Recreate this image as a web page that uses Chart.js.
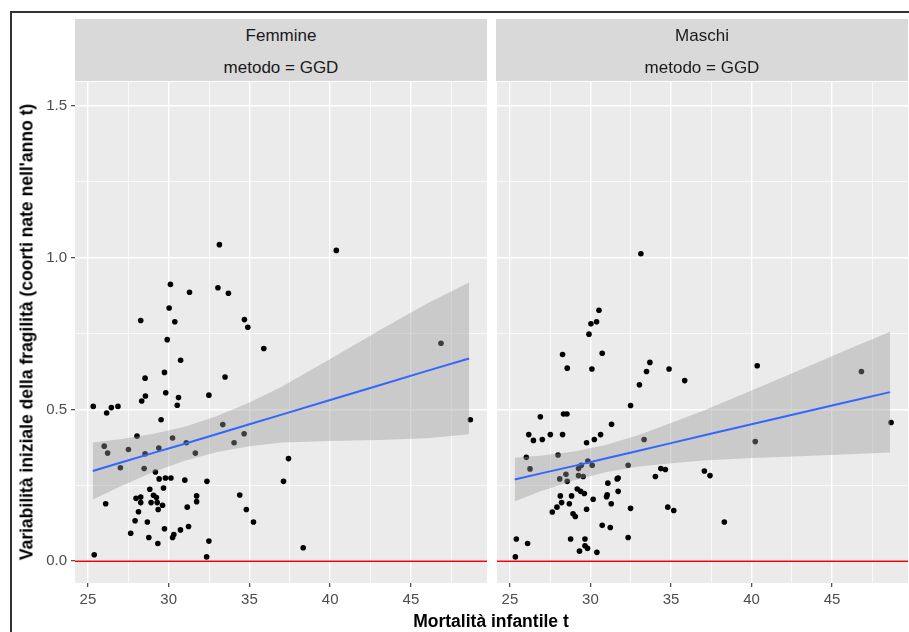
<!DOCTYPE html>
<html>
<head>
<meta charset="utf-8">
<script src="https://cdn.jsdelivr.net/npm/chart.js@4/dist/chart.umd.min.js"></script>
<style>
  body { margin: 0; background: #fff; width: 909px; height: 632px; overflow: hidden; position: relative;
         font-family: "Liberation Sans", Arial, sans-serif; }
  #frame { position: absolute; left: 10px; top: 11px; width: 920px; height: 640px;
           border-left: 2px solid #333; border-top: 2px solid #333; }
  .strip { position: absolute; top: 19px; height: 62px; width: 412px; background: #D9D9D9; color: #1A1A1A; font-size: 17px; }
  .strip div { position: absolute; left: 0; right: 0; text-align: center; line-height: 20px; }
  canvas { position: absolute; top: 78px; }
  #ytitle { position: absolute; left: 27px; top: 332px; transform: translate(-50%, -50%) rotate(-90deg);
            white-space: nowrap; font-weight: bold; font-size: 17.5px; color: #000; }
  #xtitle { position: absolute; left: 491px; top: 621px; transform: translate(-50%, -50%);
            white-space: nowrap; font-weight: bold; font-size: 17.5px; color: #000; }
</style>
</head>
<body>
<div id="frame"></div>
<canvas id="femChart" width="491" height="533" style="left:0px"></canvas>
<canvas id="masChart" width="419" height="533" style="left:493px"></canvas>
<div class="strip" style="left:75px"><div style="top:7px">Femmine</div><div style="top:39px">metodo = GGD</div></div>
<div class="strip" style="left:496px"><div style="top:7px">Maschi</div><div style="top:39px">metodo = GGD</div></div>
<div id="ytitle">Variabilità iniziale della fragilità (coorti nate nell'anno t)</div>
<div id="xtitle">Mortalità infantile t</div>
<script>
// axis ticks (majors get labels, minors only a thin grid line)
const xTicks = [25, 27.5, 30, 32.5, 35, 37.5, 40, 42.5, 45, 47.5];
const xMajor = [25, 30, 35, 40, 45];
const yTicks = [0, 0.25, 0.5, 0.75, 1, 1.25, 1.5];
const yMajor = [0, 0.5, 1, 1.5];
const xRange = [24.2, 49.71];
const yRange = [-0.072, 1.579];
const hlineY = 0;

// Femmine points
const femX = [33.14, 30.11, 31.29, 33.05, 33.70, 30.03, 28.27, 30.38, 34.69, 34.90, 29.91, 35.89, 30.74, 29.74, 28.54,
  33.49, 29.82, 28.56, 28.33, 30.61, 30.53, 32.49, 25.33, 26.16, 26.45, 26.86, 29.53, 33.35, 28.04, 30.24,
  26.01, 31.09, 34.67, 34.05, 26.22, 27.51, 29.39, 28.54, 31.65, 27.01, 28.48, 29.18, 29.41, 29.80, 30.14,
  31.00, 32.37, 37.11, 29.68, 28.83, 29.06, 27.98, 28.27, 29.24, 26.10, 28.27, 28.91, 29.29, 29.62, 31.73,
  31.73, 34.40, 31.15, 29.35, 28.13, 34.81, 27.92, 28.68, 35.25, 29.74, 31.23, 30.73, 27.65, 30.32, 30.24,
  28.77, 32.49, 29.33, 25.39, 32.35, 40.38, 46.86, 48.68, 37.42, 38.33];
const femY = [1.043, 0.912, 0.886, 0.901, 0.883, 0.834, 0.793, 0.789, 0.796, 0.771, 0.730, 0.701, 0.662, 0.622, 0.603,
  0.607, 0.555, 0.544, 0.528, 0.539, 0.514, 0.547, 0.510, 0.488, 0.506, 0.510, 0.466, 0.450, 0.412, 0.406,
  0.379, 0.390, 0.420, 0.390, 0.356, 0.368, 0.373, 0.354, 0.356, 0.308, 0.305, 0.294, 0.271, 0.274, 0.274,
  0.267, 0.263, 0.263, 0.241, 0.237, 0.217, 0.207, 0.211, 0.210, 0.189, 0.193, 0.193, 0.193, 0.184, 0.215,
  0.196, 0.218, 0.178, 0.170, 0.163, 0.170, 0.133, 0.129, 0.129, 0.107, 0.114, 0.103, 0.092, 0.088, 0.078,
  0.078, 0.066, 0.058, 0.021, 0.014, 1.024, 0.718, 0.466, 0.338, 0.044];

// Maschi points
const masX = [33.13, 30.53, 30.03, 30.38, 29.91, 28.27, 30.73, 28.56, 30.09, 33.69, 33.48, 34.88, 35.85, 33.04, 32.49,
  26.89, 28.33, 28.54, 31.31, 26.17, 27.51, 28.27, 30.63, 26.46, 27.01, 30.24, 29.76, 33.33, 26.02, 27.99,
  26.25, 29.84, 30.11, 29.43, 29.26, 32.34, 28.48, 29.26, 29.55, 28.09, 28.56, 34.37, 34.65, 34.03, 37.07,
  31.66, 31.72, 31.08, 29.18, 29.39, 29.62, 28.13, 28.83, 31.04, 31.00, 31.72, 30.17, 28.21, 28.69, 31.29,
  27.92, 27.63, 29.76, 32.49, 34.80, 35.17, 28.92, 29.06, 30.73, 31.23, 32.34, 25.40, 26.10, 28.77, 29.66,
  29.66, 29.82, 29.32, 30.40, 25.34, 40.35, 46.82, 48.66, 37.42, 40.23, 38.31];
const masY = [1.013, 0.827, 0.782, 0.789, 0.748, 0.681, 0.685, 0.636, 0.633, 0.655, 0.625, 0.633, 0.595, 0.581, 0.513,
  0.476, 0.485, 0.485, 0.451, 0.417, 0.417, 0.417, 0.417, 0.398, 0.401, 0.401, 0.390, 0.401, 0.342, 0.350,
  0.304, 0.330, 0.316, 0.316, 0.305, 0.316, 0.286, 0.282, 0.279, 0.271, 0.263, 0.305, 0.302, 0.279, 0.297,
  0.271, 0.274, 0.257, 0.238, 0.230, 0.223, 0.215, 0.215, 0.219, 0.212, 0.230, 0.204, 0.193, 0.189, 0.189,
  0.178, 0.162, 0.171, 0.174, 0.178, 0.167, 0.156, 0.147, 0.118, 0.111, 0.078, 0.073, 0.058, 0.073, 0.073,
  0.051, 0.042, 0.033, 0.029, 0.014, 0.644, 0.625, 0.457, 0.282, 0.394, 0.129];

// smoother (lm fit with confidence band)
const smoothX = [25.3, 27, 29, 31, 33, 35, 37, 40, 43, 46, 48.6];
const femFit  = [0.297, 0.324, 0.356, 0.387, 0.419, 0.451, 0.483, 0.531, 0.579, 0.627, 0.668];
const femHigh = [0.391, 0.402, 0.419, 0.443, 0.478, 0.523, 0.575, 0.666, 0.759, 0.849, 0.918];
const femLow  = [0.203, 0.246, 0.293, 0.331, 0.360, 0.379, 0.391, 0.396, 0.399, 0.405, 0.418];
const masFit  = [0.269, 0.290, 0.314, 0.339, 0.364, 0.389, 0.414, 0.451, 0.488, 0.525, 0.557];
const masHigh = [0.341, 0.348, 0.361, 0.384, 0.416, 0.455, 0.496, 0.562, 0.630, 0.698, 0.756];
const masLow  = [0.197, 0.232, 0.267, 0.294, 0.312, 0.323, 0.332, 0.340, 0.346, 0.352, 0.358];

const fontFamily = '"Liberation Sans", Arial, sans-serif';

const panelBg = {
  id: 'panelBg',
  beforeDraw(chart) {
    const a = chart.chartArea;
    chart.ctx.save();
    chart.ctx.fillStyle = '#EBEBEB';
    chart.ctx.fillRect(a.left, a.top, a.right - a.left, a.bottom - a.top);
    chart.ctx.restore();
  }
};

// red reference line at y = 0, drawn on top of everything
const zeroLine = {
  id: 'zeroLine',
  afterDraw(chart) {
    const a = chart.chartArea;
    const y = chart.scales.y.getPixelForValue(hlineY);
    const ctx = chart.ctx;
    ctx.save();
    ctx.globalAlpha = 1;
    ctx.setLineDash([]);
    ctx.strokeStyle = 'rgb(255,0,0)';
    ctx.lineWidth = 1.5;
    ctx.beginPath();
    ctx.moveTo(a.left, y);
    ctx.lineTo(a.right, y);
    ctx.stroke();
    ctx.restore();
  }
};

const toPts = (xs, ys) => xs.map((x, i) => ({ x: x, y: ys[i] }));

function makePanel(id, xs, ys, fit, low, high, showY) {
  const ctx = document.getElementById(id).getContext('2d');
  return new Chart(ctx, {
    type: 'scatter',
    data: {
      datasets: [
        { type: 'scatter', data: toPts(xs, ys), backgroundColor: '#000', borderWidth: 0,
          pointRadius: 2.8, order: 4 },
        { type: 'line', data: toPts(smoothX, high), borderWidth: 0, pointRadius: 0,
          backgroundColor: 'rgba(153,153,153,0.4)', fill: '+1', order: 3 },
        { type: 'line', data: toPts(smoothX, low), borderWidth: 0, pointRadius: 0, fill: false, order: 3 },
        { type: 'line', data: toPts(smoothX, fit), borderColor: '#3366FF', borderWidth: 2,
          pointRadius: 0, fill: false, tension: 0, order: 2 }
      ]
    },
    options: {
      responsive: false,
      animation: false,
      devicePixelRatio: 1,
      layout: { padding: 0 },
      plugins: { legend: { display: false }, tooltip: { enabled: false } },
      scales: {
        x: {
          type: 'linear', min: xRange[0], max: xRange[1],
          afterBuildTicks: (s) => { s.ticks = xTicks.map(v => ({ value: v })); },
          afterFit: (s) => { s.height = 28; s.paddingLeft = 0; s.paddingRight = 0; },
          border: { display: false },
          grid: {
            color: '#FFFFFF',
            lineWidth: (c) => xMajor.includes(c.tick.value) ? 1.4 : 0.7,
            tickColor: (c) => xMajor.includes(c.tick.value) ? '#333333' : 'rgba(0,0,0,0)',
            tickLength: 4, tickWidth: 1.1
          },
          ticks: {
            autoSkip: false, maxRotation: 0, padding: 4, color: '#4D4D4D',
            font: { family: fontFamily, size: 15 },
            callback: (v) => xMajor.includes(v) ? String(v) : ''
          }
        },
        y: {
          type: 'linear', min: yRange[0], max: yRange[1],
          afterBuildTicks: (s) => { s.ticks = yTicks.map(v => ({ value: v })); },
          afterFit: (s) => { s.width = showY ? 75 : 0; s.paddingTop = 0; s.paddingBottom = 0; },
          border: { display: false },
          grid: {
            color: '#FFFFFF',
            lineWidth: (c) => yMajor.includes(c.tick.value) ? 1.4 : 0.7,
            tickColor: (c) => (showY && yMajor.includes(c.tick.value)) ? '#333333' : 'rgba(0,0,0,0)',
            tickLength: 4, tickWidth: 1.1, drawTicks: showY
          },
          ticks: {
            display: showY, autoSkip: false, padding: 4, color: '#4D4D4D',
            font: { family: fontFamily, size: 15 },
            callback: (v) => yMajor.includes(v) ? v.toFixed(1) : ''
          }
        }
      }
    },
    plugins: [panelBg, zeroLine]
  });
}

makePanel('femChart', femX, femY, femFit, femLow, femHigh, true);
makePanel('masChart', masX, masY, masFit, masLow, masHigh, false);
</script>
</body>
</html>
